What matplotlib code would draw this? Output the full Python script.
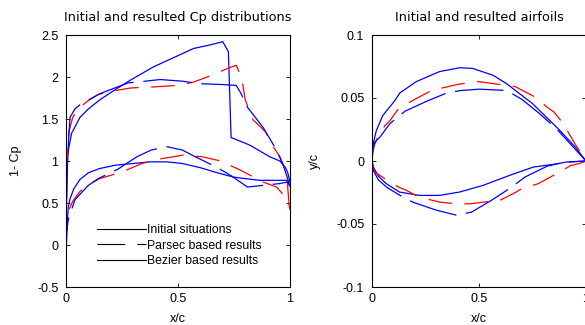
import matplotlib
matplotlib.use("Agg")
import matplotlib.pyplot as plt
from matplotlib.lines import Line2D

plt.rcParams["font.family"] = ["Liberation Sans", "DejaVu Sans"]
plt.rcParams["axes.unicode_minus"] = False
plt.rcParams["lines.scale_dashes"] = False

# ---- Pressure distributions (1 - Cp) ----
init_up_x = [0, 0.002, 0.005, 0.012, 0.025, 0.0625, 0.1, 0.152, 0.22, 0.286, 0.39, 0.48, 0.57, 0.64, 0.70, 0.725, 0.737, 0.82, 0.91, 0.955, 0.98, 0.99, 1.0]
init_up_cp = [-0.25, 0.5, 0.95, 1.15, 1.33, 1.52, 1.62, 1.73, 1.85, 1.96, 2.12, 2.23, 2.34, 2.38, 2.42, 2.30, 1.28, 1.19, 1.05, 1.0, 0.92, 0.86, 0.75]
init_lo_x = [0, 0.003, 0.01, 0.018, 0.035, 0.0625, 0.1, 0.15, 0.22, 0.3, 0.375, 0.45, 0.52, 0.6, 0.675, 0.745, 0.8, 0.866, 0.93, 0.986, 1.0]
init_lo_cp = [-0.25, 0.15, 0.45, 0.55, 0.67, 0.78, 0.86, 0.91, 0.95, 0.97, 0.99, 0.99, 0.97, 0.92, 0.86, 0.81, 0.79, 0.77, 0.77, 0.77, 0.70]

parsec_up_x = [0, 0.002, 0.005, 0.013, 0.03, 0.057, 0.1, 0.143, 0.2, 0.29, 0.38, 0.5, 0.57, 0.65, 0.72, 0.76, 0.785, 0.80, 0.835, 0.89, 0.93, 0.955, 0.985, 1.0]
parsec_up_cp = [0.0, 0.6, 1.05, 1.35, 1.52, 1.63, 1.72, 1.79, 1.83, 1.87, 1.88, 1.90, 1.94, 2.02, 2.10, 2.14, 1.98, 1.73, 1.49, 1.35, 1.15, 1.05, 0.85, 0.35]
parsec_lo_x = [0, 0.003, 0.01, 0.03, 0.06, 0.094, 0.15, 0.2, 0.25, 0.34, 0.43, 0.48, 0.52, 0.61, 0.69, 0.78, 0.88, 0.94, 0.96, 0.99, 1.0]
parsec_lo_cp = [0.0, 0.2, 0.4, 0.52, 0.63, 0.71, 0.79, 0.83, 0.87, 0.97, 1.03, 1.05, 1.07, 1.05, 1.0, 0.89, 0.75, 0.69, 0.63, 0.55, 0.42]

bezier_up_x = [0, 0.002, 0.008, 0.018, 0.04, 0.0625, 0.15, 0.277, 0.32, 0.42, 0.52, 0.60, 0.70, 0.76, 0.78, 0.81, 0.88, 0.94, 0.97, 1.0]
bezier_up_cp = [-0.25, 0.5, 1.09, 1.52, 1.62, 1.67, 1.80, 1.93, 1.94, 1.97, 1.95, 1.92, 1.91, 1.90, 1.81, 1.64, 1.40, 1.13, 0.95, 0.70]
bezier_lo_x = [0, 0.003, 0.01, 0.04, 0.1, 0.144, 0.19, 0.23, 0.316, 0.38, 0.45, 0.52, 0.57, 0.67, 0.74, 0.81, 0.88, 0.95, 0.99, 1.0]
bezier_lo_cp = [-0.25, 0.15, 0.30, 0.54, 0.71, 0.79, 0.85, 0.90, 1.05, 1.13, 1.17, 1.13, 1.06, 0.93, 0.82, 0.69, 0.71, 0.73, 0.75, 0.70]

# ---- Airfoil geometry (y/c) ----
foil_init_up_x = [0, 0.002, 0.006, 0.02, 0.05, 0.107, 0.13, 0.207, 0.316, 0.41, 0.47, 0.566, 0.628, 0.75, 0.877, 0.95, 1.0]
foil_init_up_y = [0, 0.006, 0.0138, 0.024, 0.036, 0.048, 0.054, 0.063, 0.071, 0.074, 0.0735, 0.068, 0.0615, 0.0456, 0.0244, 0.011, 0.0]
foil_init_lo_x = [0, 0.006, 0.03, 0.067, 0.128, 0.22, 0.316, 0.41, 0.52, 0.643, 0.754, 0.847, 0.91, 1.0]
foil_init_lo_y = [0, -0.0048, -0.012, -0.018, -0.0246, -0.0273, -0.0273, -0.0246, -0.0193, -0.0114, -0.0048, -0.0027, -0.0008, 0.0]

foil_parsec_up_x = [0, 0.003, 0.01, 0.03, 0.06, 0.084, 0.126, 0.212, 0.29, 0.33, 0.406, 0.5, 0.556, 0.67, 0.76, 0.82, 0.85, 0.894, 0.948, 1.0]
foil_parsec_up_y = [0, 0.006, 0.012, 0.02, 0.028, 0.032, 0.042, 0.050, 0.057, 0.058, 0.061, 0.063, 0.0617, 0.059, 0.051, 0.0425, 0.039, 0.0297, 0.0138, 0.0]
foil_parsec_lo_x = [0, 0.013, 0.06, 0.124, 0.154, 0.22, 0.316, 0.394, 0.456, 0.6, 0.67, 0.70, 0.777, 0.863, 0.93, 0.97, 1.0]
foil_parsec_lo_y = [0, -0.0087, -0.014, -0.0207, -0.0227, -0.0286, -0.0326, -0.034, -0.034, -0.031, -0.025, -0.022, -0.018, -0.010, -0.0035, -0.002, 0.0]

foil_bezier_up_x = [0, 0.003, 0.013, 0.037, 0.084, 0.154, 0.25, 0.349, 0.418, 0.5, 0.628, 0.7, 0.78, 0.86, 0.93, 1.0]
foil_bezier_up_y = [0, 0.008, 0.015, 0.019, 0.0297, 0.0395, 0.047, 0.054, 0.056, 0.057, 0.056, 0.049, 0.038, 0.026, 0.013, 0.0]
foil_bezier_lo_x = [0, 0.006, 0.03, 0.07, 0.128, 0.19, 0.3, 0.394, 0.466, 0.56, 0.653, 0.715, 0.82, 0.9, 1.0]
foil_bezier_lo_y = [0, -0.0075, -0.015, -0.021, -0.027, -0.0326, -0.039, -0.043, -0.0405, -0.031, -0.0207, -0.0127, -0.004, -0.001, 0.0]

legend_labels = ["Initial situations", "Parsec based results", "Bezier based results"]

BLUE = "#0000ff"
RED = "#ff0000"
LW = 0.9
RED_DASH = (0, (17, 9))
BLUE_DASH = (0, (35, 7))
FS = 9
TITLE_FONT = dict(family="DejaVu Sans", size=9.3)

fig = plt.figure(figsize=(5.85, 3.25), dpi=100)
ax1 = fig.add_axes([66 / 585, 38 / 325, 224 / 585, 252 / 325])
ax2 = fig.add_axes([372 / 585, 38 / 325, 214 / 585, 252 / 325])


def style_axes(ax):
    for sp in ax.spines.values():
        sp.set_linewidth(0.8)
        sp.set_color("black")
    ax.tick_params(direction="in", length=3, width=0.6, labelsize=FS,
                   top=True, right=True)
    ax.tick_params(axis="y", pad=5.5)
    ax.tick_params(axis="x", pad=4)


# Cp plot
ax1.plot(init_up_x, init_up_cp, color=BLUE, lw=LW)
ax1.plot(init_lo_x, init_lo_cp, color=BLUE, lw=LW)
ax1.plot(parsec_up_x, parsec_up_cp, color=RED, lw=LW, linestyle=RED_DASH)
ax1.plot(parsec_lo_x, parsec_lo_cp, color=RED, lw=LW, linestyle=RED_DASH)
ax1.plot(bezier_up_x, bezier_up_cp, color=BLUE, lw=LW, linestyle=BLUE_DASH)
ax1.plot(bezier_lo_x, bezier_lo_cp, color=BLUE, lw=LW, linestyle=BLUE_DASH)
ax1.set_xlim(0, 1)
ax1.set_ylim(-0.5, 2.5)
ax1.set_xticks([0, 0.5, 1])
ax1.set_xticklabels(["0", "0.5", "1"])
ax1.set_yticks([-0.5, 0, 0.5, 1, 1.5, 2, 2.5])
ax1.set_yticklabels(["-0.5", "0", "0.5", "1", "1.5", "2", "2.5"])
ax1.set_title("Initial and resulted Cp distributions", fontdict=TITLE_FONT, pad=10)
ax1.set_xlabel("x/c", fontsize=FS, labelpad=6)
ax1.set_ylabel("1- Cp", fontsize=FS, labelpad=11)
style_axes(ax1)

handles = [
    Line2D([], [], color="black", lw=0.8),
    Line2D([], [], color="black", lw=0.8, linestyle=(0, (20, 8.6))),
    Line2D([], [], color="black", lw=0.8),
]
ax1.legend(handles, legend_labels, loc="upper left", bbox_to_anchor=(0.138, 0.25),
           frameon=False, fontsize=8.8, handlelength=4.0, handletextpad=0.1,
           labelspacing=0.3, borderpad=0, borderaxespad=0)

# Airfoil plot
ax2.plot(foil_init_up_x, foil_init_up_y, color=BLUE, lw=LW)
ax2.plot(foil_init_lo_x, foil_init_lo_y, color=BLUE, lw=LW)
ax2.plot(foil_parsec_up_x, foil_parsec_up_y, color=RED, lw=LW, linestyle=RED_DASH)
ax2.plot(foil_parsec_lo_x, foil_parsec_lo_y, color=RED, lw=LW, linestyle=RED_DASH)
ax2.plot(foil_bezier_up_x, foil_bezier_up_y, color=BLUE, lw=LW, linestyle=BLUE_DASH)
ax2.plot(foil_bezier_lo_x, foil_bezier_lo_y, color=BLUE, lw=LW, linestyle=BLUE_DASH)
ax2.set_xlim(0, 1)
ax2.set_ylim(-0.1, 0.1)
ax2.set_xticks([0, 0.5, 1])
ax2.set_xticklabels(["0", "0.5", "1"])
ax2.set_yticks([-0.1, -0.05, 0, 0.05, 0.1])
ax2.set_yticklabels(["-0.1", "-0.05", "0", "0.05", "0.1"])
ax2.set_title("Initial and resulted airfoils", fontdict=TITLE_FONT, pad=10)
ax2.set_xlabel("x/c", fontsize=FS, labelpad=6)
ax2.set_ylabel("y/c", fontsize=FS, labelpad=11)
style_axes(ax2)

fig.savefig("out.png", dpi=100)
